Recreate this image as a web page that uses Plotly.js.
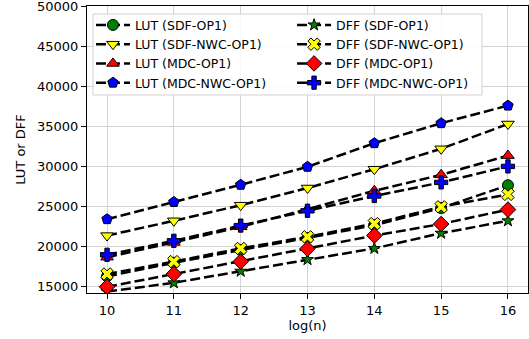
<!DOCTYPE html>
<html>
<head>
<meta charset="utf-8">
<script src="https://cdn.plot.ly/plotly-3.0.1.min.js"></script>
<style>html,body{margin:0;padding:0;background:#fff;}#chart{width:529px;height:339px;}</style>
</head>
<body>
<div id="chart"></div>
<script>
const logN = [10, 11, 12, 13, 14, 15, 16];
const lutSdf     = [16200, 17900, 19500, 21000, 22600, 24750, 27600];
const lutSdfNwc  = [21300, 23150, 25100, 27250, 29600, 32150, 35250];
const lutMdc     = [18600, 20450, 22400, 24600, 26900, 28900, 31300];
const lutMdcNwc  = [23350, 25500, 27650, 29900, 32850, 35350, 37550];
const dffSdf     = [14300, 15400, 16850, 18300, 19700, 21600, 23150];
const dffSdfNwc  = [16500, 18050, 19700, 21150, 22800, 24900, 26450];
const dffMdc     = [14900, 16500, 18050, 19650, 21300, 22750, 24550];
const dffMdcNwc  = [18900, 20650, 22550, 24400, 26250, 27950, 29950];
const seriesNames = ['LUT (SDF-OP1)', 'LUT (SDF-NWC-OP1)', 'LUT (MDC-OP1)', 'LUT (MDC-NWC-OP1)',
                     'DFF (SDF-OP1)', 'DFF (SDF-NWC-OP1)', 'DFF (MDC-OP1)', 'DFF (MDC-NWC-OP1)'];
const yTicks = [15000, 20000, 25000, 30000, 35000, 40000, 45000, 50000];

const series = [lutSdf, lutSdfNwc, lutMdc, lutMdcNwc, dffSdf, dffSdfNwc, dffMdc, dffMdcNwc];
const symbols = ['circle', 'triangle-down', 'triangle-up', 'pentagon', 'star', 'x', 'diamond', 'cross'];
const colors = ['#008000', '#ffff00', '#ff0000', '#0000ff', '#008000', '#ffff00', '#ff0000', '#0000ff'];
const sizes = [11, 11, 11, 11, 9, 11, 12, 11];

const traces = series.map((ys, i) => ({
  x: logN, y: ys, name: seriesNames[i], type: 'scatter', mode: 'lines+markers',
  line: {color: '#000', width: 2.5, dash: '10px,4px'},
  marker: {symbol: symbols[i], color: colors[i], size: sizes[i], line: {color: '#000', width: 1}},
  legend: i < 4 ? 'legend' : 'legend2'
}));

const font = {family: 'DejaVu Sans', size: 13, color: '#000'};
const legFont = {family: 'DejaVu Sans', size: 12.5, color: '#000'};
const legendCommon = {
  bgcolor: 'rgba(0,0,0,0)', borderwidth: 0, font: legFont, itemwidth: 34,
  yanchor: 'top', y: 0.985, xanchor: 'left', tracegroupgap: 0
};

const layout = {
  width: 529, height: 339,
  margin: {l: 87, r: 1, t: 6, b: 46},
  paper_bgcolor: '#fff', plot_bgcolor: '#fff',
  font: font,
  showlegend: true,
  legend: Object.assign({}, legendCommon, {x: 0.009}),
  legend2: Object.assign({}, legendCommon, {x: 0.465}),
  xaxis: {
    range: [9.7, 16.3], tickvals: logN, ticktext: logN.map(String),
    tickfont: {family: 'DejaVu Sans', size: 13, color: '#000'},
    showgrid: true, gridcolor: '#d3d3d3', gridwidth: 1,
    showline: true, linecolor: '#000', linewidth: 1, mirror: true,
    ticks: 'outside', ticklen: 5, tickcolor: '#000', zeroline: false,
    title: {text: 'log(n)', font: {family: 'DejaVu Sans', size: 13, color: '#000'}, standoff: 4}
  },
  yaxis: {
    range: [14125, 50000.5], tickvals: yTicks, ticktext: yTicks.map(String),
    tickfont: {family: 'DejaVu Sans', size: 13, color: '#000'},
    ticklabeloverflow: 'allow',
    showgrid: true, gridcolor: '#d3d3d3', gridwidth: 1,
    showline: true, linecolor: '#000', linewidth: 1, mirror: true,
    ticks: 'outside', ticklen: 5, tickcolor: '#000', zeroline: false,
    title: {text: 'LUT or DFF', font: {family: 'DejaVu Sans', size: 13, color: '#000'}, standoff: 8}
  },
  shapes: [{
    type: 'rect', xref: 'paper', yref: 'paper',
    x0: 0.0136, x1: 0.8957, y0: 0.690, y1: 0.972,
    line: {color: '#d0d0d0', width: 1}, fillcolor: 'rgba(255,255,255,0.85)', layer: 'above'
  }]
};

Plotly.newPlot('chart', traces, layout, {displayModeBar: false, staticPlot: true});
</script>
</body>
</html>
